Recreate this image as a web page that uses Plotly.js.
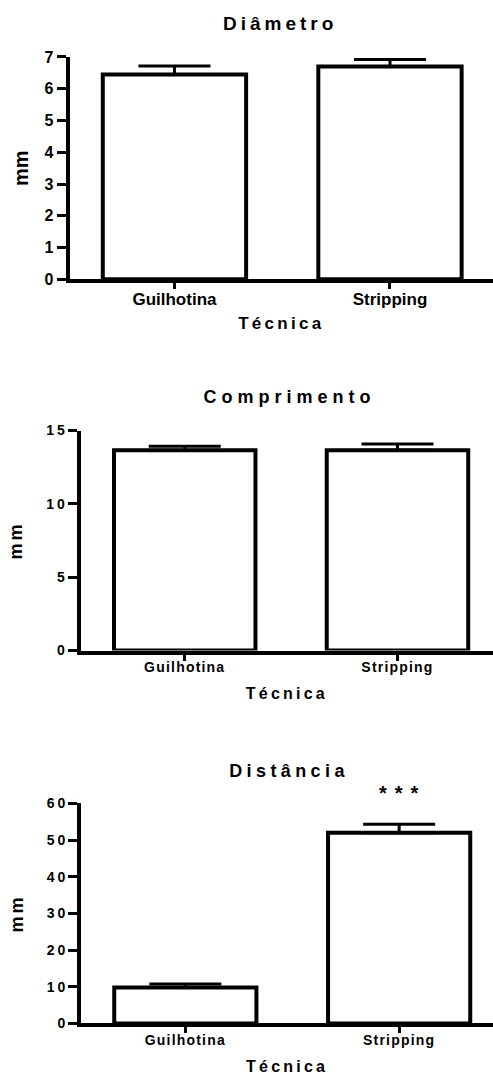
<!DOCTYPE html>
<html><head><meta charset="utf-8">
<script src="https://cdn.plot.ly/plotly-3.0.1.min.js"></script>
<style>
html,body{margin:0;padding:0;background:#fff;}
#chart{width:493px;height:1075px;}
.x2tick text, .x3tick text{letter-spacing:1.2px;}
.y2tick text, .y3tick text{letter-spacing:3px;}
text.xtitle{letter-spacing:3.3px;}
text.x2title, text.x3title{letter-spacing:3.2px;}
text.y2title, text.y3title{letter-spacing:3px;}
.annotation[data-index="0"] text{letter-spacing:4px;}
.annotation[data-index="1"] text{letter-spacing:5px;}
.annotation[data-index="2"] text{letter-spacing:4.4px;}
.annotation[data-index="3"] text{letter-spacing:8px;}
</style></head>
<body><div id="chart"></div>
<script>
const categories = ['Guilhotina', 'Stripping'];
const diametroMean = [6.45, 6.70];
const diametroErr = [0.27, 0.22];
const comprimentoMean = [13.65, 13.65];
const comprimentoErr = [0.28, 0.43];
const distanciaMean = [9.8, 52.0];
const distanciaErr = [0.95, 2.3];
const lowerErr = [0, 0];
const panelTitles = ['Diâmetro', 'Comprimento', 'Distância'];
const xTitleText = 'Técnica';
const yTitleText = 'mm';
const significance = '***';
const significantCategory = 'Stripping';

const FONT = 'Liberation Sans, Arial, sans-serif';

function barTrace(means, errs, xa, ya) {
  return {
    type: 'bar', x: categories, y: means, xaxis: xa, yaxis: ya,
    width: 0.665,
    marker: {color: 'white', line: {color: 'black', width: 4}},
    error_y: {type: 'data', symmetric: false, array: errs, arrayminus: lowerErr,
              color: 'black', thickness: 3, width: 36, visible: true},
    hoverinfo: 'none'
  };
}

const data = [
  barTrace(diametroMean, diametroErr, 'x', 'y'),
  barTrace(comprimentoMean, comprimentoErr, 'x2', 'y2'),
  barTrace(distanciaMean, distanciaErr, 'x3', 'y3')
];

function xAxis(domain, range, anchor, tickSize, titleSize, standoff) {
  return {
    domain: domain, range: range, type: 'category', anchor: anchor,
    showline: true, linewidth: 4, linecolor: 'black',
    ticks: 'outside', ticklen: 6, tickwidth: 3, tickcolor: 'black',
    ticklabelstandoff: -5,
    showgrid: false, zeroline: false, fixedrange: true,
    tickfont: {family: FONT, size: tickSize, color: 'black', weight: 700},
    title: {text: xTitleText, font: {family: FONT, size: titleSize, color: 'black', weight: 700}, standoff: standoff}
  };
}
function yAxis(domain, range, dtick, anchor, tickSize, titleSize, standoff, labelStandoff) {
  return {
    domain: domain, range: range, anchor: anchor,
    tickmode: 'linear', tick0: 0, dtick: dtick,
    showline: true, linewidth: 4, linecolor: 'black',
    ticks: 'outside', ticklen: 9, tickwidth: 3, tickcolor: 'black',
    ticklabelstandoff: labelStandoff,
    showgrid: false, zeroline: false, fixedrange: true,
    tickfont: {family: FONT, size: tickSize, color: 'black', weight: 700},
    title: {text: yTitleText, font: {family: FONT, size: titleSize, color: 'black', weight: 700}, standoff: standoff}
  };
}

const layout = {
  width: 493, height: 1075,
  margin: {l: 0, r: 0, t: 0, b: 0},
  paper_bgcolor: 'white', plot_bgcolor: 'white',
  showlegend: false,
  font: {family: FONT, color: 'black', weight: 700},
  xaxis: xAxis([0.1414, 1], [-0.486, 1.478], 'y', 17, 17, 10.5),
  yaxis: yAxis([0.74019, 0.94698], [0, 7], 1, 'x', 16, 20, 12, 0),
  xaxis2: xAxis([0.16369, 1], [-0.489, 1.449], 'y2', 14, 16, 14),
  yaxis2: yAxis([0.39488, 0.59953], [0, 15], 5, 'x2', 14, 18, 20, -3),
  xaxis3: xAxis([0.16471, 1], [-0.487, 1.439], 'y3', 14, 16, 15),
  yaxis3: yAxis([0.04791, 0.25274], [0, 60], 10, 'x3', 14, 18, 20, -3),
  annotations: [
    {text: panelTitles[0], xref: 'paper', yref: 'paper', x: 0.568, y: 0.97795, xanchor: 'center', yanchor: 'middle', showarrow: false, font: {family: FONT, size: 19, color: 'black', weight: 700}},
    {text: panelTitles[1], xref: 'paper', yref: 'paper', x: 0.5872, y: 0.63070, xanchor: 'center', yanchor: 'middle', showarrow: false, font: {family: FONT, size: 18, color: 'black', weight: 700}},
    {text: panelTitles[2], xref: 'paper', yref: 'paper', x: 0.5876, y: 0.28233, xanchor: 'center', yanchor: 'middle', showarrow: false, font: {family: FONT, size: 18, color: 'black', weight: 700}},
    {text: significance, xref: 'x3', yref: 'y3 domain', x: categories.indexOf(significantCategory), y: 1.047, xshift: 4, xanchor: 'center', yanchor: 'middle', showarrow: false, font: {family: FONT, size: 20, color: 'black', weight: 700}}
  ]
};

Plotly.newPlot('chart', data, layout, {displayModeBar: false, staticPlot: true});
</script>
</body></html>
